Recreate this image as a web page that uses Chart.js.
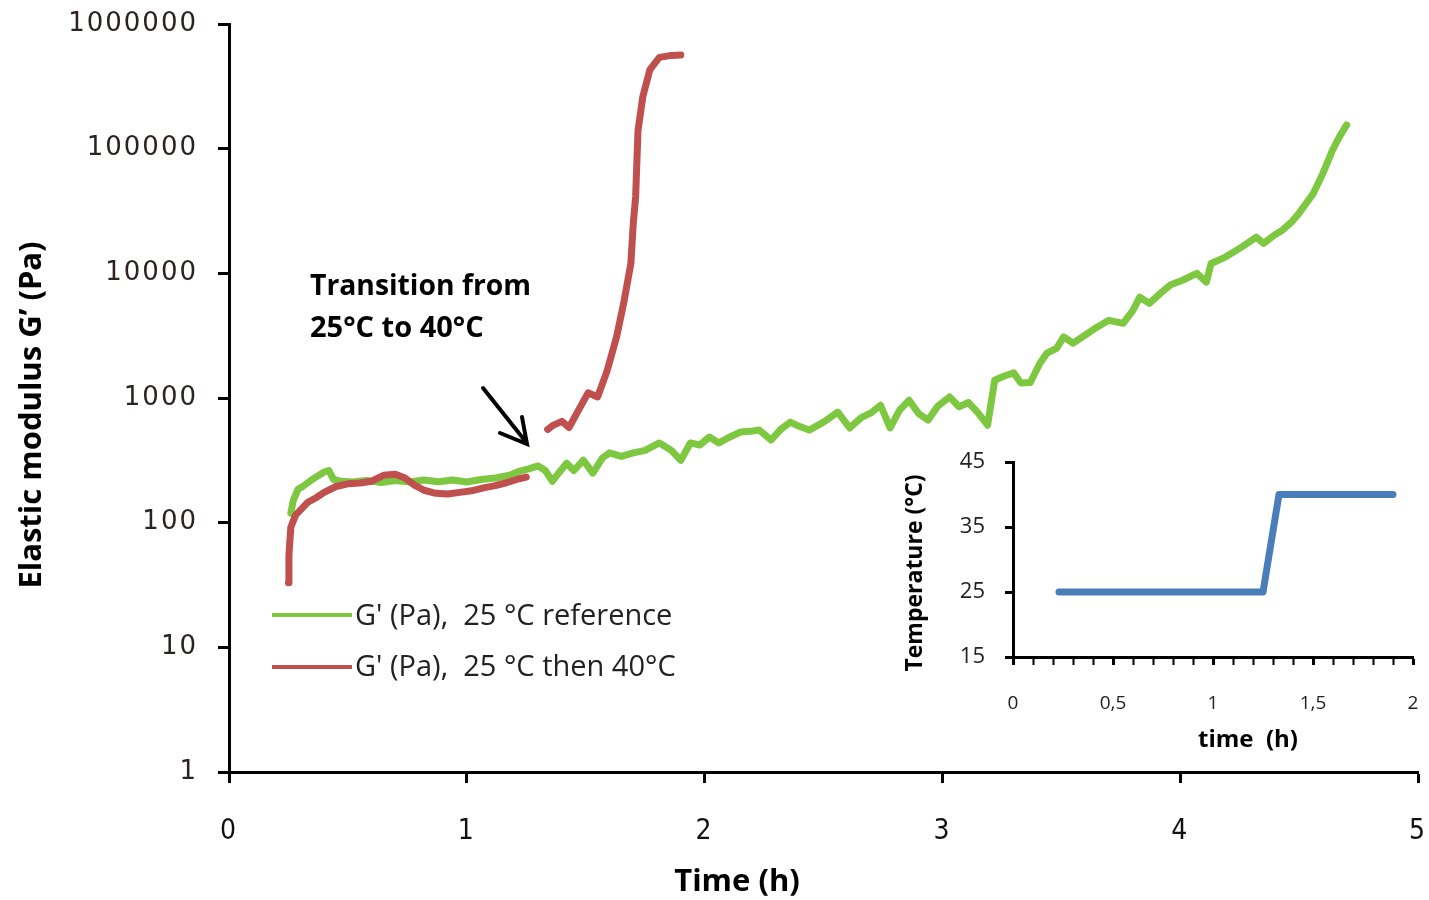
<!DOCTYPE html>
<html>
<head>
<meta charset="utf-8">
<script src="https://cdn.jsdelivr.net/npm/chart.js@4/dist/chart.umd.min.js"></script>
<style>
body { margin: 0; background: #fff; }
#wrap { position: relative; width: 1429px; height: 900px; }
#main { position: absolute; left: 0; top: 0; }
#inset { position: absolute; left: 890px; top: 445px; }
</style>
</head>
<body>
<div id="wrap">
  <canvas id="main" width="1429" height="900"></canvas>
  <canvas id="inset" width="540" height="320"></canvas>
</div>
<script>
// G' reference at 25°C (time in h, G' in Pa)
const greenT = [0.26, 0.27, 0.29, 0.31, 0.34, 0.37, 0.40, 0.42, 0.44, 0.47, 0.52, 0.58, 0.64, 0.70, 0.76, 0.82, 0.88, 0.94, 1.00, 1.06,
  1.12, 1.18, 1.22, 1.26, 1.30, 1.33, 1.36, 1.39, 1.42, 1.45, 1.49, 1.53, 1.57, 1.60, 1.65, 1.70, 1.75, 1.81, 1.86, 1.90,
  1.94, 1.98, 2.02, 2.06, 2.10, 2.15, 2.19, 2.23, 2.28, 2.32, 2.36, 2.40, 2.44, 2.50, 2.56, 2.61, 2.66, 2.70, 2.74, 2.78,
  2.82, 2.86, 2.90, 2.94, 2.98, 3.03, 3.07, 3.11, 3.15, 3.19, 3.22, 3.26, 3.30, 3.33, 3.37, 3.41, 3.44, 3.48, 3.51, 3.55,
  3.60, 3.65, 3.70, 3.76, 3.80, 3.83, 3.87, 3.92, 3.96, 4.01, 4.07, 4.11, 4.13, 4.19, 4.26, 4.32, 4.35, 4.40, 4.43, 4.47,
  4.50, 4.56, 4.60, 4.64, 4.67, 4.70];
const greenG = [119, 150, 185, 195, 215, 235, 255, 262, 222, 215, 212, 218, 210, 218, 212, 220, 213, 220, 212, 222,
  228, 240, 258, 270, 285, 262, 215, 255, 300, 262, 317, 250, 330, 363, 340, 363, 380, 436, 380, 317,
  436, 420, 487, 436, 480, 533, 540, 553, 460, 560, 640, 590, 553, 640, 770, 575, 700, 760, 875, 575,
  800, 960, 750, 665, 860, 1020, 850, 920, 760, 605, 1390, 1500, 1590, 1320, 1330, 1900, 2290, 2500, 3090, 2750,
  3200, 3700, 4200, 3970, 5000, 6440, 5740, 7000, 8100, 8800, 10000, 8500, 12000, 13500, 16300, 19500, 17400, 20500, 22200, 26000,
  30400, 43800, 63300, 97000, 125000, 155000];

// G' at 25°C then 40°C (null = gap during the transition)
const redT = [0.25, 0.252, 0.26, 0.28, 0.30, 0.33, 0.37, 0.40, 0.45, 0.50, 0.55, 0.60, 0.65, 0.70, 0.74, 0.78, 0.82, 0.87, 0.92, 0.97,
  1.02, 1.07, 1.12, 1.17, 1.22, 1.25, 1.30,
  1.34, 1.36, 1.40, 1.43, 1.47, 1.51, 1.55, 1.59, 1.63, 1.66, 1.69, 1.70, 1.71, 1.72, 1.74, 1.77, 1.81, 1.86, 1.90];
const redG = [33, 55, 92, 115, 126, 145, 160, 175, 195, 205, 208, 215, 240, 245, 228, 200, 182, 172, 170, 175,
  180, 190, 198, 210, 225, 232, null,
  560, 600, 650, 580, 800, 1100, 1020, 1650, 3100, 5800, 12000, 25000, 41000, 140000, 260000, 430000, 540000, 560000, 565000];

const yTicks = [1, 10, 100, 1000, 10000, 100000, 1000000];
const xTicks = [0, 1, 2, 3, 4, 5];

// inset: temperature program
const tempT = [0.23, 1.25, 1.33, 1.9];
const tempC = [25, 25, 40, 40];
const insetYTicks = [15, 25, 35, 45];

const green = '#7dc840';
const red = '#c0504d';
const blue = '#4a7ebb';

function pts(xs, ys) {
  return xs.map((x, i) => ({ x: x, y: ys[i] }));
}

// fillText squeezes the text to maxW when it is wider
function fitText(c, txt, x, y, maxW) {
  c.fillText(txt, x, y, maxW);
}

const textPlugin = {
  id: 'texts',
  beforeDraw(chart) {
    chart.ctx.letterSpacing = '2px';
  },
  afterDatasetsDraw(chart) {
    chart.ctx.letterSpacing = '0px';
  },
  afterDraw(chart) {
    const c = chart.ctx;
    c.save();
    c.letterSpacing = '0px';
    c.fillStyle = '#000';
    c.textBaseline = 'middle';

    // axis titles
    c.font = 'bold 31px "Open Sans", sans-serif';
    c.textAlign = 'center';
    fitText(c, 'Time (h)', 737, 882, 127);
    c.save();
    c.translate(32, 415);
    c.rotate(-Math.PI / 2);
    fitText(c, 'Elastic modulus G\u2019 (Pa)', 0, 0, 350);
    c.restore();

    // annotation
    c.textAlign = 'left';
    c.font = 'bold 29px "Open Sans", sans-serif';
    fitText(c, 'Transition from', 310, 287, 221);
    fitText(c, '25\u00b0C to 40\u00b0C', 310, 329, 183);

    c.strokeStyle = '#000';
    c.lineWidth = 4;
    c.lineCap = 'round';
    c.beginPath();
    c.moveTo(483, 388);
    c.lineTo(526, 442);
    c.moveTo(500, 433);
    c.lineTo(527, 444);
    c.lineTo(522, 417);
    c.stroke();

    // legend
    c.lineCap = 'butt';
    c.lineWidth = 4;
    c.strokeStyle = green;
    c.beginPath(); c.moveTo(272, 615); c.lineTo(352, 615); c.stroke();
    c.strokeStyle = red;
    c.beginPath(); c.moveTo(272, 667); c.lineTo(352, 667); c.stroke();
    c.fillStyle = '#222';
    c.font = '29px "Open Sans", sans-serif';
    fitText(c, 'G\' (Pa),  25 \u00b0C reference', 355, 617, 318);
    fitText(c, 'G\' (Pa),  25 \u00b0C then 40\u00b0C', 355, 668, 328);
    c.restore();
  }
};

new Chart(document.getElementById('main'), {
  type: 'line',
  data: {
    datasets: [
      {
        label: 'G\' (Pa), 25°C reference',
        data: pts(greenT, greenG),
        borderColor: green,
        borderWidth: 7,
        pointRadius: 0,
        borderJoinStyle: 'round',
        borderCapStyle: 'round',
        order: 2
      },
      {
        label: 'G\' (Pa), 25°C then 40°C',
        data: pts(redT, redG),
        borderColor: red,
        borderWidth: 7,
        pointRadius: 0,
        spanGaps: false,
        borderJoinStyle: 'round',
        borderCapStyle: 'round',
        order: 1
      }
    ]
  },
  options: {
    responsive: false,
    animation: false,
    layout: { padding: { top: 24, right: 11, left: 0, bottom: 0 } },
    plugins: { legend: { display: false }, tooltip: { enabled: false } },
    scales: {
      x: {
        type: 'linear',
        min: 0,
        max: 5,
        afterBuildTicks: (axis) => { axis.ticks = xTicks.map(v => ({ value: v })); },
        afterFit: (scale) => { scale.height = 128; scale.paddingLeft = 0; scale.paddingRight = 0; },
        border: { color: '#000', width: 3 },
        grid: { drawOnChartArea: false, color: '#000', tickColor: '#000', tickLength: 11, tickWidth: 3 },
        ticks: {
          color: '#111',
          padding: 32,
          font: { family: '"Liberation Sans Narrow", "DejaVu Sans Condensed", sans-serif', size: 28 }
        }
      },
      y: {
        type: 'logarithmic',
        min: 1,
        max: 1000000,
        afterBuildTicks: (axis) => { axis.ticks = yTicks.map(v => ({ value: v })); },
        afterFit: (scale) => { scale.width = 229; scale.paddingTop = 0; scale.paddingBottom = 0; },
        border: { color: '#000', width: 3 },
        grid: { drawOnChartArea: false, color: '#000', tickColor: '#000', tickLength: 11, tickWidth: 3 },
        ticks: {
          color: '#2b2222',
          padding: 20,
          font: { family: '"DejaVu Sans", sans-serif', size: 26 },
          callback: (v) => String(v)
        }
      }
    }
  },
  plugins: [textPlugin]
});

function isHalf(v) {
  return Math.abs(v * 2 - Math.round(v * 2)) < 1e-6;
}

const insetTextPlugin = {
  id: 'insetTexts',
  afterDraw(chart) {
    const c = chart.ctx;
    c.save();
    c.fillStyle = '#000';
    c.textBaseline = 'middle';
    c.textAlign = 'center';
    c.font = 'bold 24px "Open Sans", sans-serif';
    fitText(c, 'time  (h)', 1248 - 890, 740 - 445, 104);
    c.translate(915 - 890, 573 - 445);
    c.rotate(-Math.PI / 2);
    c.font = 'bold 23px "Open Sans", sans-serif';
    fitText(c, 'Temperature (\u00b0C)', 0, 0, 206);
    c.restore();
  }
};

new Chart(document.getElementById('inset'), {
  type: 'line',
  data: {
    datasets: [{
      label: 'Temperature',
      data: pts(tempT, tempC),
      borderColor: blue,
      borderWidth: 7,
      pointRadius: 0,
      borderJoinStyle: 'round',
      borderCapStyle: 'round'
    }]
  },
  options: {
    responsive: false,
    animation: false,
    layout: { padding: { top: 17, right: 17, left: 0, bottom: 0 } },
    plugins: { legend: { display: false }, tooltip: { enabled: false } },
    scales: {
      x: {
        type: 'linear',
        min: 0,
        max: 2,
        afterFit: (scale) => { scale.height = 108; scale.paddingLeft = 0; scale.paddingRight = 0; },
        border: { color: '#000', width: 3 },
        grid: {
          drawOnChartArea: false,
          tickColor: '#000',
          tickLength: 8,
          tickWidth: (c) => (c.tick && isHalf(c.tick.value) ? 3 : 2)
        },
        ticks: {
          stepSize: 0.1,
          autoSkip: false,
          maxRotation: 0,
          color: '#222',
          padding: 27,
          font: { family: '"Open Sans", sans-serif', size: 19 },
          callback: (v) => (isHalf(v) ? String(Math.round(v * 2) / 2).replace('.', ',') : '')
        }
      },
      y: {
        type: 'linear',
        min: 15,
        max: 45,
        afterBuildTicks: (axis) => { axis.ticks = insetYTicks.map(v => ({ value: v })); },
        afterFit: (scale) => { scale.width = 123; scale.paddingTop = 0; scale.paddingBottom = 0; },
        border: { color: '#000', width: 3 },
        grid: { drawOnChartArea: false, tickColor: '#000', tickLength: 8, tickWidth: 3 },
        ticks: {
          color: '#222',
          padding: 20,
          font: { family: '"Open Sans", sans-serif', size: 22 }
        }
      }
    }
  },
  plugins: [insetTextPlugin]
});
</script>
</body>
</html>
